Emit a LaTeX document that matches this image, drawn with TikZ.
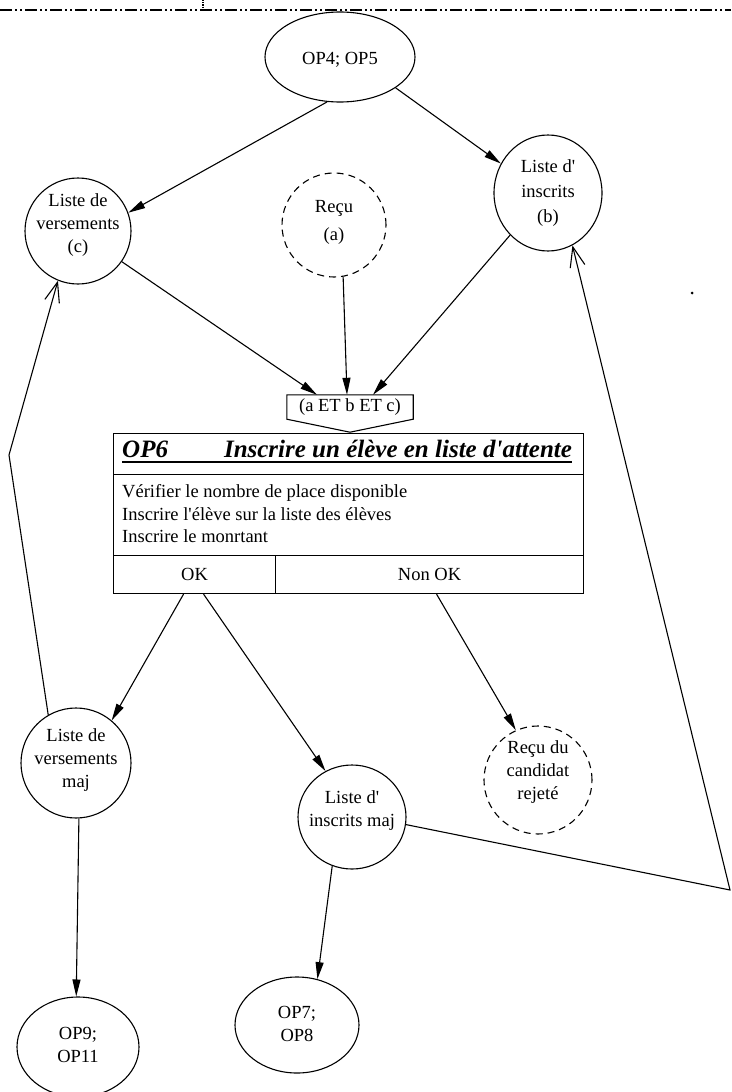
\documentclass[tikz,border=0pt]{standalone}
\usepackage{fontspec}
\setmainfont{Liberation Serif}
\usetikzlibrary{shapes.geometric,arrows.meta}

\tikzset{
  etat/.style={draw,ellipse,line width=1.1pt,inner sep=0pt},
  etatext/.style={etat,dash pattern=on 7pt off 5pt},
  lbl/.style={align=center,inner sep=0pt,font=\fontsize{18.5}{23}\selectfont},
  cel/.style={draw,line width=1.1pt,rectangle,anchor=north west,inner sep=0pt,font=\fontsize{18.5}{23}\selectfont},
  fl/.style={line width=1.1pt,-{Triangle[length=17pt,width=8pt]}},
  ret/.style={line width=1.1pt,-{Straight Barb[length=20pt,width=15pt]}}
}
\newcommand{\apos}{\textquotesingle}

\begin{document}
\begin{tikzpicture}[x=1pt,y=-1pt]
\useasboundingbox (0,0) rectangle (731,1092);
% trait de separation en haut
\draw[line width=1.2pt,dash pattern=on 12pt off 3pt on 2pt off 3pt on 2pt off 3pt] (0,10) -- (731,10);
\draw[line width=1.2pt,densely dotted] (203,0) -- (203,10);

% documents en entree
\node[etat,minimum width=150,minimum height=90] (op45) at (340,57) {};
\node[lbl] (t-op45) at (340,60) {OP4; OP5};
\node[etat,minimum width=106,minimum height=106] (lv) at (78,231) {};
\node[lbl] (t-lv) at (78,225) {Liste de\\versements\\(c)};
\node[etatext,minimum width=104,minimum height=104] (recu) at (334,225) {};
\node[lbl] (t-recu) at (334,222) {Reçu\\[5pt](a)};
\node[etat,minimum width=108,minimum height=116] (lib) at (548,193) {};
\node[lbl] (t-lib) at (548,193) {Liste d\apos\\[2pt]inscrits\\[2pt](b)};

% condition de declenchement
\node[lbl,minimum width=126,minimum height=24] (cond) at (350,407) {(a ET b ET c)};
\draw[line width=1.1pt] (cond.north west) -- (cond.north east) -- (cond.south east)
  -- ([yshift=-13]cond.south) -- (cond.south west) -- cycle;

% operation OP6
\node[cel,minimum width=470,minimum height=41] (entete) at (113,433) {};
\node[cel,minimum width=470,minimum height=81] (corps) at (113,474) {};
\node[cel,minimum width=162,minimum height=38] (ok) at (113,555) {OK};
\node[cel,minimum width=308,minimum height=38] (nonok) at (275,555) {Non OK};
\node[anchor=base west,inner sep=0pt,font=\fontsize{25}{30}\selectfont\bfseries\itshape] (titre) at (122,457)
  {OP6\hspace{56pt}Inscrire un élève en liste d\apos attente};
\draw[line width=1.6pt] ([yshift=-5]titre.base west) -- ([yshift=-5]titre.base east);
\node[anchor=west,align=left,inner sep=0pt,font=\fontsize{18.5}{22.5}\selectfont] (taches) at (122,514)
  {Vérifier le nombre de place disponible\\Inscrire l\apos élève sur la liste des élèves\\Inscrire le monrtant};

% documents en sortie
\node[etat,minimum width=110,minimum height=110] (lvm) at (76,763) {};
\node[lbl] (t-lvm) at (76,760) {Liste de\\versements\\maj};
\node[etat,minimum width=108,minimum height=104] (lim) at (352,817) {};
\node[lbl] (t-lim) at (352,811) {Liste d\apos\\inscrits maj};
\node[etatext,minimum width=108,minimum height=108] (rej) at (538,780) {};
\node[lbl] (t-rej) at (538,772) {Reçu du\\candidat\\rejeté};
\node[etat,minimum width=122,minimum height=100] (op911) at (78,1047) {};
\node[lbl] (t-op911) at (78,1045) {OP9;\\OP11};
\node[etat,minimum width=124,minimum height=96] (op78) at (297,1025) {};
\node[lbl] (t-op78) at (297,1024) {OP7;\\OP8};

\coordinate (Q) at (9,455);
\coordinate (P) at (730,890);
\fill (692,293) circle (1.5pt);

% flux
\draw[fl] (op45.-106) -- (lv.20);
\draw[fl] (op45.-29) -- (lib.148);
\draw[fl] (lv.-35) -- ([xshift=-33]cond.north);
\draw[fl] (recu.-80) -- ([xshift=-3]cond.north);
\draw[fl] (lib.-132) -- ([xshift=23]cond.north);
\draw[fl] ([xshift=-11]ok.south) -- (lvm.50);
\draw[fl] ([xshift=9]ok.south) -- (lim.120);
\draw[fl] ([xshift=7]nonok.south) -- (rej.114);
\draw[fl] (lvm.-87) -- (op911.92);
\draw[fl] (lim.-112) -- (op78.66);
% retours vers les listes
\draw[ret] (lvm.120) -- (Q) -- (lv.-112);
\draw[ret] (lim.-8) -- (P) -- (lib.-65);
\end{tikzpicture}
\end{document}
